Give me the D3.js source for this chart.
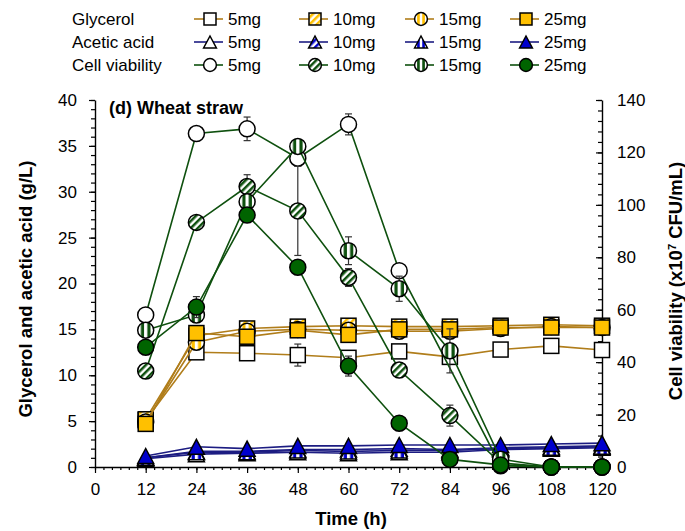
<!DOCTYPE html>
<html>
<head>
<meta charset="utf-8">
<script src="https://cdn.jsdelivr.net/npm/d3@7"></script>
<style>
body { margin: 0; background: #ffffff; }
text { font-family: Arial, "Liberation Sans", sans-serif; fill: #000; }
</style>
</head>
<body>
<div id="viewportContainer"></div>
<script>

/* --- ビューポート --- */
const viewport = {width: 685, height: 531};
const plot = {left: 95, right: 602, top: 100, bottom: 467};

/* --- データセット --- */
const timeH = [12, 24, 36, 48, 60, 72, 84, 96, 108, 120];
const xTicks = [0, 12, 24, 36, 48, 60, 72, 84, 96, 108, 120];
const leftTicks = [0, 5, 10, 15, 20, 25, 30, 35, 40];
const rightTicks = [0, 20, 40, 60, 80, 100, 120, 140];
const doses = ["5mg", "10mg", "15mg", "25mg"];

// Glycerol (g/L)
const glycerol5 = [5.1, 12.5, 12.4, 12.2, 11.9, 12.6, 12.0, 12.8, 13.2, 12.75];
const glycerol10 = [5.2, 14.3, 15.1, 15.3, 15.4, 15.3, 15.3, 15.4, 15.5, 15.4];
const glycerol15 = [4.9, 13.6, 14.8, 15.0, 14.9, 14.8, 14.8, 15.1, 15.3, 15.2];
const glycerol25 = [4.7, 14.6, 14.2, 14.9, 14.4, 15.0, 15.0, 15.2, 15.2, 15.2];
const glycerolErr5 = [0, 0, 0, 1.2, 0, 0, 0, 0, 0, 0];

// Acetic acid (g/L)
const acetic5 = [0.9, 1.4, 1.5, 1.6, 1.5, 1.6, 1.6, 1.9, 2.0, 2.1];
const acetic10 = [1.0, 1.7, 1.7, 1.9, 1.9, 2.0, 1.9, 2.1, 2.2, 2.3];
const acetic15 = [1.0, 1.6, 1.6, 1.8, 1.7, 1.8, 1.8, 2.0, 2.1, 2.2];
const acetic25 = [1.2, 2.2, 2.0, 2.3, 2.3, 2.4, 2.4, 2.4, 2.5, 2.6];

// Cell viability (x10^7 CFU/mL)
const cell5 = [58.0, 127.2, 129.0, 117.8, 130.7, 74.9, null, 0.5, 0, 0];
const cell10 = [36.6, 93.3, 107.0, 97.7, 72.3, 37.0, 19.6, 1.5, 0, 0];
const cell15 = [52.2, 58.0, 101.2, 122.3, 82.5, 68.0, 44.3, 3.0, 0, 0];
const cell25 = [45.7, 61.0, 96.1, 76.2, 38.5, 16.7, 2.9, 0.8, 0, 0];
const cellErr5 = [0, 0, 4.5, 0, 4.0, 0, 0, 0, 0, 0];
const cellErr10 = [0, 0, 4.5, 17.0, 3.4, 0, 4.0, 0, 0, 0];
const cellErr15 = [0, 0, 0, 0, 5.3, 4.8, 8.4, 0, 0, 0];
const cellErr25 = [0, 4.0, 0, 0, 3.8, 0, 0, 0, 0, 0];

/* --- 色 --- */
const colors = {
    glyLine: "#B07D1A", yellow: "#FFC000",
    aceLine: "#1C1C82", blue: "#0000CC",
    cellLine: "#0E500E", green: "#006400"
};

/* --- フォントサイズ --- */
const fontSize = {tick: 17, legend: 17, title: 18.5, panel: 18};

/*--- スケール ---*/
const xScale = d3.scaleLinear().domain([0, 120]).range([plot.left, plot.right]);
const yLeft = d3.scaleLinear().domain([0, 40]).range([plot.bottom, plot.top]);
const yRight = d3.scaleLinear().domain([0, 140]).range([plot.bottom, plot.top]);

/*--- 系列テーブル ---*/
const seriesList = [
    {group: "Glycerol", dose: doses[0], values: glycerol5, err: glycerolErr5, shape: "square", fill: "#ffffff", line: colors.glyLine, y: yLeft},
    {group: "Glycerol", dose: doses[1], values: glycerol10, err: null, shape: "square", fill: "url(#glyDiag)", line: colors.glyLine, y: yLeft},
    {group: "Glycerol", dose: doses[2], values: glycerol15, err: null, shape: "circle", fill: "url(#glyVert)", line: colors.glyLine, y: yLeft},
    {group: "Glycerol", dose: doses[3], values: glycerol25, err: null, shape: "square", fill: colors.yellow, line: colors.glyLine, y: yLeft},
    {group: "Acetic acid", dose: doses[0], values: acetic5, err: null, shape: "triangle", fill: "#ffffff", line: colors.aceLine, y: yLeft},
    {group: "Acetic acid", dose: doses[1], values: acetic10, err: null, shape: "triangle", fill: "url(#aceDiag)", line: colors.aceLine, y: yLeft},
    {group: "Acetic acid", dose: doses[2], values: acetic15, err: null, shape: "triangle", fill: "url(#aceVert)", line: colors.aceLine, y: yLeft},
    {group: "Acetic acid", dose: doses[3], values: acetic25, err: null, shape: "triangle", fill: colors.blue, line: colors.aceLine, y: yLeft},
    {group: "Cell viability", dose: doses[0], values: cell5, err: cellErr5, shape: "circle", fill: "#ffffff", line: colors.cellLine, y: yRight},
    {group: "Cell viability", dose: doses[1], values: cell10, err: cellErr10, shape: "circle", fill: "url(#cellDiag)", line: colors.cellLine, y: yRight},
    {group: "Cell viability", dose: doses[2], values: cell15, err: cellErr15, shape: "circle", fill: "url(#cellVert)", line: colors.cellLine, y: yRight},
    {group: "Cell viability", dose: doses[3], values: cell25, err: cellErr25, shape: "circle", fill: colors.green, line: colors.cellLine, y: yRight}
];

/*--- SVG作成 ---*/
const svg = d3.select("#viewportContainer").append("svg")
    .attr("width", viewport.width)
    .attr("height", viewport.height);

/*--- パターン ---*/
const defs = svg.append("defs");

let addDiag = function(id, color) {
    const p = defs.append("pattern").attr("id", id)
        .attr("patternUnits", "userSpaceOnUse")
        .attr("width", 5).attr("height", 5)
        .attr("patternTransform", "rotate(45)");
    p.append("rect").attr("width", 5).attr("height", 5).attr("fill", "#ffffff");
    p.append("rect").attr("width", 2.5).attr("height", 5).attr("fill", color);
};

let addVert = function(id, color) {
    const p = defs.append("pattern").attr("id", id)
        .attr("patternUnits", "objectBoundingBox")
        .attr("patternContentUnits", "objectBoundingBox")
        .attr("width", 0.4).attr("height", 1);
    p.append("rect").attr("width", 0.4).attr("height", 1).attr("fill", "#ffffff");
    p.append("rect").attr("x", 0.2).attr("width", 0.2).attr("height", 1).attr("fill", color);
};

addDiag("glyDiag", colors.yellow);
addVert("glyVert", colors.yellow);
addDiag("aceDiag", colors.blue);
addVert("aceVert", colors.blue);
addDiag("cellDiag", colors.cellLine);
addVert("cellVert", colors.cellLine);

/*--- マーカー描画 ---*/
let drawMarker = function(g, shape, fill, cx, cy, k) {
    if (shape === "circle") {
        g.append("circle").attr("cx", cx).attr("cy", cy).attr("r", 8 * k)
            .attr("fill", fill).attr("stroke", "#000").attr("stroke-width", 1.5);
    } else if (shape === "square") {
        g.append("rect").attr("x", cx - 7.5 * k).attr("y", cy - 7.5 * k)
            .attr("width", 15 * k).attr("height", 15 * k)
            .attr("fill", fill).attr("stroke", "#000").attr("stroke-width", 1.5);
    } else {
        const w = 8 * k, h = 7.5 * k;
        g.append("path")
            .attr("d", "M" + cx + "," + (cy - h) + "L" + (cx + w) + "," + (cy + h) + "L" + (cx - w) + "," + (cy + h) + "Z")
            .attr("fill", fill).attr("stroke", "#000").attr("stroke-width", 1.5)
            .attr("stroke-linejoin", "miter");
    }
};

/*--- 軸 ---*/
let drawAxes = function() {

    const axisG = svg.append("g").attr("class", "axes");

    // X軸
    const xMinor = axisG.append("g").attr("transform", "translate(0," + plot.bottom + ")")
        .call(d3.axisBottom(xScale).tickValues(d3.range(0, 121, 2)).tickSize(3).tickFormat(""));
    xMinor.select(".domain").remove();
    axisG.append("g").attr("transform", "translate(0," + plot.bottom + ")")
        .call(d3.axisBottom(xScale).tickValues(xTicks).tickSize(6).tickSizeOuter(0).tickPadding(10));

    // 左Y軸
    const lMinor = axisG.append("g").attr("transform", "translate(" + plot.left + ",0)")
        .call(d3.axisLeft(yLeft).tickValues(d3.range(0, 41, 1)).tickSize(4).tickFormat(""));
    lMinor.select(".domain").remove();
    axisG.append("g").attr("transform", "translate(" + plot.left + ",0)")
        .call(d3.axisLeft(yLeft).tickValues(leftTicks).tickSize(6).tickSizeOuter(0).tickPadding(12));

    // 右Y軸（目盛りは内向き）
    const rMinor = axisG.append("g").attr("transform", "translate(" + plot.right + ",0)")
        .call(d3.axisRight(yRight).tickValues(d3.range(0, 141, 4)).tickSize(-4).tickFormat(""));
    rMinor.select(".domain").remove();
    axisG.append("g").attr("transform", "translate(" + plot.right + ",0)")
        .call(d3.axisRight(yRight).tickValues(rightTicks).tickSize(-6).tickSizeOuter(0).tickPadding(15));

    axisG.selectAll("text").attr("font-size", fontSize.tick).attr("font-family", "Arial, 'Liberation Sans', sans-serif");
    axisG.selectAll(".domain").attr("stroke", "#000").attr("stroke-width", 1.4);
    axisG.selectAll(".tick line").attr("stroke", "#000").attr("stroke-width", 1.2);

    // 軸タイトル
    svg.append("text")
        .attr("transform", "translate(26,289) rotate(-90)")
        .attr("text-anchor", "middle").attr("dy", "0.35em")
        .attr("font-size", fontSize.title).attr("font-weight", "bold")
        .text("Glycerol and acetic acid (g/L)");

    const rt = svg.append("text")
        .attr("transform", "translate(676,281) rotate(-90)")
        .attr("text-anchor", "middle").attr("dy", "0.35em")
        .attr("font-size", fontSize.title).attr("font-weight", "bold");
    rt.append("tspan").text("Cell viability (x10");
    rt.append("tspan").attr("font-size", 11).attr("baseline-shift", "super").text("7");
    rt.append("tspan").text(" CFU/mL)");

    svg.append("text")
        .attr("x", 351).attr("y", 525)
        .attr("text-anchor", "middle")
        .attr("font-size", fontSize.title).attr("font-weight", "bold")
        .text("Time (h)");

    svg.append("text")
        .attr("x", 109).attr("y", 114)
        .attr("font-size", fontSize.panel).attr("font-weight", "bold")
        .text("(d) Wheat straw");
};

/*--- 系列描画 ---*/
let drawSeries = function() {

    const chartG = svg.append("g").attr("class", "chart");

    seriesList.forEach(function(s) {
        const pts = timeH.map(function(t, i) {
            return {t: t, v: s.values[i], e: s.err ? s.err[i] : 0};
        }).filter(function(d) { return d.v !== null; });

        const g = chartG.append("g");

        const line = d3.line()
            .x(function(d) { return xScale(d.t); })
            .y(function(d) { return s.y(d.v); });

        g.append("path").datum(pts)
            .attr("d", line)
            .attr("fill", "none")
            .attr("stroke", s.line)
            .attr("stroke-width", 1.6);

        // エラーバー
        pts.filter(function(d) { return d.e > 0; }).forEach(function(d) {
            const x = xScale(d.t), y1 = s.y(d.v - d.e), y2 = s.y(d.v + d.e);
            g.append("line").attr("x1", x).attr("x2", x).attr("y1", y1).attr("y2", y2)
                .attr("stroke", "#333").attr("stroke-width", 1.2);
            [y1, y2].forEach(function(yy) {
                g.append("line").attr("x1", x - 3.5).attr("x2", x + 3.5).attr("y1", yy).attr("y2", yy)
                    .attr("stroke", "#333").attr("stroke-width", 1.2);
            });
        });

        pts.forEach(function(d) {
            drawMarker(g, s.shape, s.fill, xScale(d.t), s.y(d.v), 1);
        });
    });
};

/*--- 凡例 ---*/
let drawLegend = function() {

    const legendG = svg.append("g").attr("class", "legend");
    const groups = ["Glycerol", "Acetic acid", "Cell viability"];
    const rowY = [19, 42, 65];
    const colX = [210, 315, 421, 526];

    groups.forEach(function(gname, r) {
        legendG.append("text")
            .attr("x", 72).attr("y", rowY[r]).attr("dy", "0.35em")
            .attr("font-size", fontSize.legend).text(gname);

        seriesList.filter(function(s) { return s.group === gname; }).forEach(function(s, c) {
            const cx = colX[c], cy = rowY[r];
            legendG.append("line")
                .attr("x1", cx - 16).attr("x2", cx + 13)
                .attr("y1", cy).attr("y2", cy)
                .attr("stroke", s.line).attr("stroke-width", 1.6);
            drawMarker(legendG, s.shape, s.fill, cx, cy, 0.8);
            legendG.append("text")
                .attr("x", cx + 18).attr("y", cy).attr("dy", "0.35em")
                .attr("font-size", fontSize.legend).text(s.dose);
        });
    });
};

drawAxes();
drawSeries();
drawLegend();

</script>
</body>
</html>
